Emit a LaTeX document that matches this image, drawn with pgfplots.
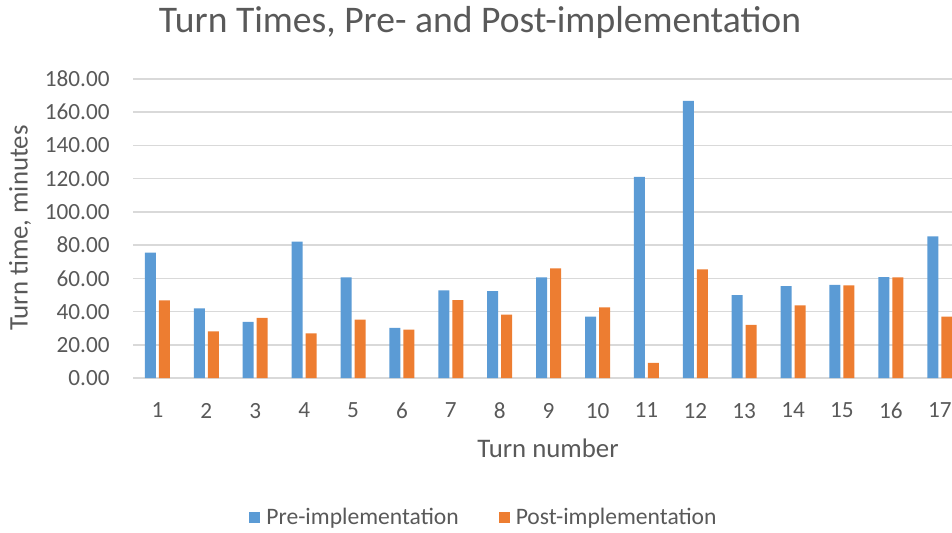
\documentclass[border=0pt]{standalone}
\usepackage{fontspec}
\setmainfont{Carlito}
\usepackage{pgfplots}
\pgfplotsset{compat=1.18}
\definecolor{pre}{HTML}{5B9BD5}
\definecolor{post}{HTML}{ED7D31}
\definecolor{txt}{HTML}{595959}
\definecolor{gridc}{HTML}{D9D9D9}
\begin{document}
\begin{tikzpicture}[x=1pt,y=1pt]
\path[use as bounding box] (0,0) rectangle (476,266);
\begin{axis}[
  at={(66.5pt,77pt)}, anchor=south west,
  scale only axis, width=409.5pt, height=149.5pt,
  ybar=1.5pt, bar width=5.5pt,
  xmin=0.5, xmax=17.25, ymin=0, ymax=180,
  ytick={0,20,...,180},
  xtick={1,...,17},
  xticklabels={1,2,3,4,5,6,7,8,9,10,11,12,13,14,15,16,17},
  axis line style={draw=none},
  ymajorgrids, grid style={draw=gridc, line width=0.8pt},
  major tick length=0pt, tick style={draw=none},
  ticklabel style={font=\fontsize{11.6}{13}\selectfont, text=txt},
  yticklabel style={anchor=east, inner sep=0pt, xshift=-11.5pt},
  xticklabel style={anchor=north, inner sep=0pt, yshift=-12.3pt},
  /pgf/number format/.cd, fixed, fixed zerofill, precision=2, assume math mode=true, /tikz/.cd,
  legend style={at={(0.431,-0.468)}, anchor=center, draw=none, fill=none,
    legend columns=2, font=\fontsize{11.8}{13}\selectfont, text=txt,
    /tikz/every even column/.append style={column sep=17pt},
    nodes={inner sep=3pt}},
  legend image code/.code={\fill[#1] (0pt,-2.75pt) rectangle (5.5pt,2.75pt);},
]
\addplot[fill=pre, draw=none] coordinates {
(1,75.5) (2,41.9) (3,33.8) (4,82.1) (5,60.6) (6,30.2) (7,52.7) (8,52.3) (9,60.6)
(10,37.0) (11,121.1) (12,166.8) (13,49.9) (14,55.3) (15,56.1) (16,60.8) (17,85.3)};
\addplot[fill=post, draw=none] coordinates {
(1,46.7) (2,28.0) (3,36.2) (4,26.8) (5,35.2) (6,29.2) (7,46.9) (8,38.2) (9,66.0)
(10,42.5) (11,9.1) (12,65.4) (13,32.0) (14,43.7) (15,55.7) (16,60.6) (17,37.0)};
\legend{Pre-implementation, Post-implementation}
\end{axis}
\node[font=\fontsize{18.8}{22}\selectfont, text=txt] at (240,255) {Turn Times, Pre- and Post-implementation};
\node[rotate=90, font=\fontsize{13.4}{15}\selectfont, text=txt] at (10,152) {Turn time, minutes};
\node[font=\fontsize{13.4}{15}\selectfont, text=txt] at (274,42) {Turn number};
\end{tikzpicture}
\end{document}
